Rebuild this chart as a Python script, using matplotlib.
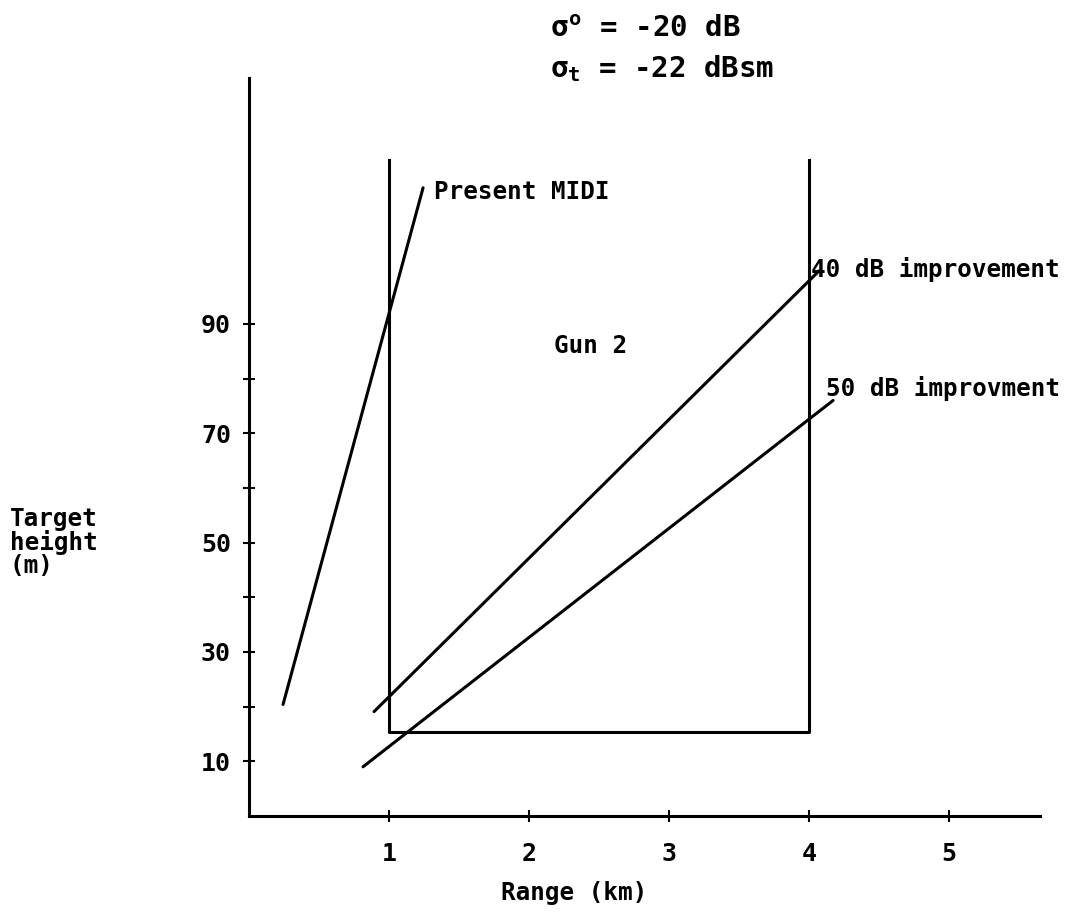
import matplotlib.pyplot as plt
import numpy as np

plt.rcParams["font.family"] = ["DejaVu Sans Mono", "DejaVu Sans"]
plt.rcParams["font.weight"] = "bold"
plt.rcParams["mathtext.fontset"] = "custom"
plt.rcParams["mathtext.rm"] = "DejaVu Sans Mono:bold"
plt.rcParams["mathtext.it"] = "DejaVu Sans Mono:bold"
plt.rcParams["mathtext.bf"] = "DejaVu Sans Mono:bold"

# detection curves: range (km) vs target height (m)
midi_x = [0.243, 1.243]
midi_y = [20.4, 114.9]

imp40_x = [0.893, 4.071]
imp40_y = [19.1, 99.7]

imp50_x = [0.814, 4.171]
imp50_y = [9.0, 76.0]

# gun 2 engagement zone
gun_x = [1, 1, 4, 4]
gun_y = [120, 15.3, 15.3, 120]

xticks = [1, 2, 3, 4, 5]
yticks_major = [10, 30, 50, 70, 90]
yticks_minor = [20, 40, 60, 80]

fig = plt.figure(figsize=(10.72, 9.17), dpi=100)
ax = fig.add_axes([0.2323, 0.1101, 0.738, 0.805])

lw = 2.2
ax.plot(midi_x, midi_y, color="black", lw=lw, solid_capstyle="round")
ax.plot(imp40_x, imp40_y, color="black", lw=lw, solid_capstyle="round")
ax.plot(imp50_x, imp50_y, color="black", lw=lw, solid_capstyle="round")
ax.plot(gun_x, gun_y, color="black", lw=lw)

fs = 17.5
ax.text(1.32, 114.2, "Present MIDI", fontsize=fs, va="center", ha="left")
ax.text(4.01, 100.0, "40 dB improvement", fontsize=fs, va="center", ha="left")
ax.text(4.12, 78.2, "50 dB improvment", fontsize=fs, va="center", ha="left")
ax.text(2.18, 86.0, "Gun 2", fontsize=fs, va="center", ha="left")

ax.set_xlim(0, 5.65)
ax.set_ylim(0, 135)

for side in ["top", "right"]:
    ax.spines[side].set_visible(False)
for side in ["left", "bottom"]:
    ax.spines[side].set_linewidth(2.2)

ax.set_xticks(xticks)
ax.set_xticklabels([str(t) for t in xticks], fontsize=18)
ax.set_yticks(yticks_major)
ax.set_yticklabels([str(t) for t in yticks_major], fontsize=18)
ax.set_yticks(yticks_minor, minor=True)
ax.tick_params(axis="both", which="both", direction="inout", length=8, width=1.5)
ax.tick_params(axis="x", pad=15)
ax.tick_params(axis="y", pad=9)

fig.text(0.0093, 0.408, "Target\nheight\n(m)", fontsize=fs, ha="left",
         va="center", linespacing=0.95)
fig.text(0.536, 0.026, "Range (km)", fontsize=fs, ha="center", va="center")

fig.text(0.513, 0.9597, r"$\sigma^{\rm o}$ = -20 dB", fontsize=21, ha="left",
         va="baseline")
fig.text(0.513, 0.916, r"$\sigma_{\rm t}$ = -22 dBsm", fontsize=21, ha="left",
         va="baseline")

fig.savefig("out.png", dpi=100)
